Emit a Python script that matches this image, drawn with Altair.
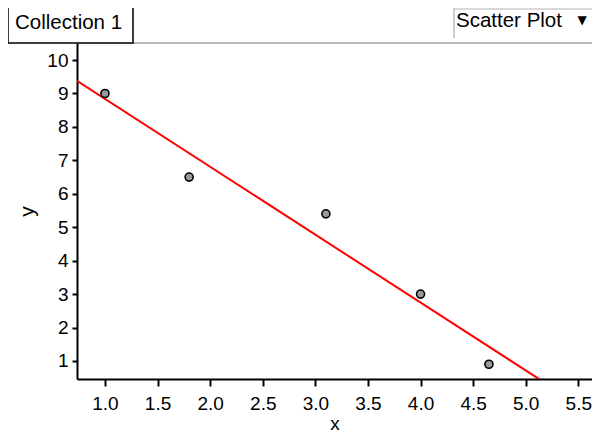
import altair as alt
import pandas as pd

# data
xs = [1.0, 1.8, 3.1, 4.0, 4.65]
ys = [9.0, 6.5, 5.4, 3.0, 0.9]
x_ticks = [1.0, 1.5, 2.0, 2.5, 3.0, 3.5, 4.0, 4.5, 5.0, 5.5]
y_ticks = [1, 2, 3, 4, 5, 6, 7, 8, 9, 10]
x_domain = [0.734, 5.63]
y_domain = [0.46, 10.51]

df = pd.DataFrame({"x": xs, "y": ys})
FONT = "Arial"

xenc = alt.X("x:Q", title="x",
             scale=alt.Scale(domain=x_domain, nice=False, zero=False),
             axis=alt.Axis(values=x_ticks, format=".1f", grid=False,
                           domainColor="black", domainWidth=2,
                           tickColor="black", tickWidth=2, tickSize=7,
                           labelPadding=8, labelFontSize=19, labelFont=FONT,
                           labelColor="black", labelFlush=False, labelOverlap=False,
                           titleFontSize=19, titleFont=FONT, titleFontWeight="normal",
                           titleColor="black", titlePadding=1))
yenc = alt.Y("y:Q", title="y",
             scale=alt.Scale(domain=y_domain, nice=False, zero=False),
             axis=alt.Axis(values=y_ticks, format="d", grid=False,
                           domainColor="black", domainWidth=2,
                           tickColor="black", tickWidth=2, tickSize=5,
                           labelPadding=4, labelFontSize=19, labelFont=FONT,
                           labelColor="black", labelFlush=False, labelOverlap=False,
                           titleFontSize=21, titleFont=FONT, titleFontWeight="normal",
                           titleColor="black", titlePadding=9))

points = alt.Chart(df).mark_point(
    filled=True, fill="#999999", stroke="black", strokeWidth=1.6,
    size=65, opacity=1, shape="circle"
).encode(x=xenc, y=yenc)

line = alt.Chart(df).transform_regression(
    "x", "y", extent=x_domain
).mark_line(color="red", strokeWidth=2, clip=True).encode(x=xenc, y=yenc)

one = alt.Data(values=[{"a": 1}])

coll_box = alt.Chart(one).mark_rect(
    fill="white", stroke="black", strokeWidth=1.5, clip=False
).encode(x=alt.value(-69), x2=alt.value(56), y=alt.value(-45), y2=alt.value(0))

coll_text = alt.Chart(one).mark_text(
    text="Collection 1", font=FONT, fontSize=20.5, align="left", baseline="middle",
    color="black", clip=False
).encode(x=alt.value(-62), y=alt.value(-20))

top_line = alt.Chart(one).mark_rule(color="#aaaaaa", strokeWidth=1.5, clip=False).encode(
    x=alt.value(56), x2=alt.value(515), y=alt.value(0))

sp_left = alt.Chart(one).mark_rule(color="#bbbbbb", strokeWidth=1.5, clip=False).encode(
    x=alt.value(377), y=alt.value(-35), y2=alt.value(-5))
sp_top = alt.Chart(one).mark_rule(color="#cccccc", strokeWidth=1.5, clip=False).encode(
    x=alt.value(377), x2=alt.value(515), y=alt.value(-34))

sp_text = alt.Chart(one).mark_text(
    text="Scatter Plot", font=FONT, fontSize=20.5, align="left", baseline="middle",
    color="black", clip=False
).encode(x=alt.value(379), y=alt.value(-22))

sp_icon = alt.Chart(one).mark_text(
    text="▼", font="DejaVu Sans", fontSize=12, align="center", baseline="middle",
    color="black", clip=False
).encode(x=alt.value(505), y=alt.value(-23))

chart = alt.layer(
    line, points, top_line, coll_box, coll_text, sp_left, sp_top, sp_text, sp_icon
).properties(
    width=515, height=336,
    autosize=alt.AutoSizeParams(type="none"),
    padding={"left": 69, "top": 35, "right": 0, "bottom": 58},
).configure_view(stroke=None).configure(background="white")

chart.save("out.html", embed_options={"renderer": "svg", "actions": False})
